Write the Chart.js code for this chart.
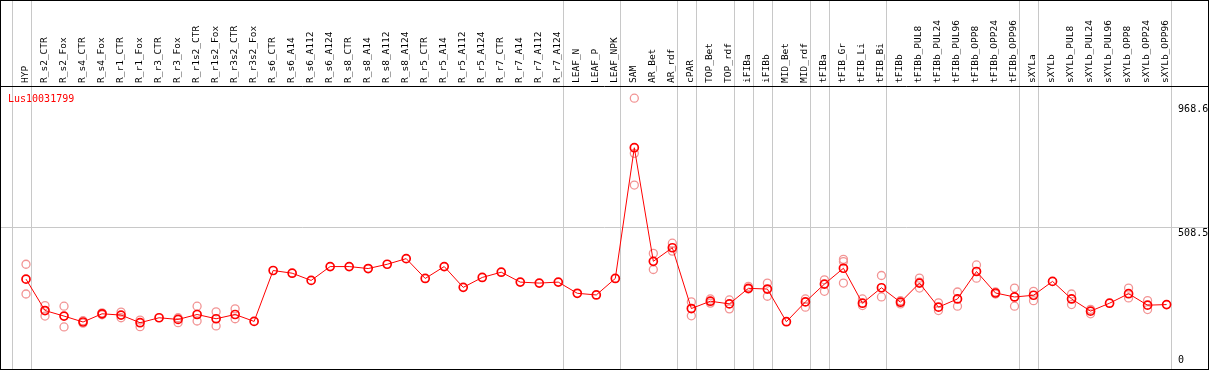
<!DOCTYPE html>
<html>
<head>
<meta charset="utf-8">
<script src="https://cdn.jsdelivr.net/npm/chart.js@4.4.1/dist/chart.umd.min.js"></script>
<style>
  html, body { margin: 0; padding: 0; background: #fff; }
  #wrap { width: 1209px; height: 370px; }
</style>
</head>
<body>
<div id="wrap"><canvas id="exprChart" width="1209" height="370"></canvas></div>
<script>
// Sample names (one column each)
const samples = [
  'HYP',
  'R_s2_CTR', 'R_s2_Fox', 'R_s4_CTR', 'R_s4_Fox', 'R_r1_CTR', 'R_r1_Fox', 'R_r3_CTR', 'R_r3_Fox',
  'R_r1s2_CTR', 'R_r1s2_Fox', 'R_r3s2_CTR', 'R_r3s2_Fox',
  'R_s6_CTR', 'R_s6_A14', 'R_s6_A112', 'R_s6_A124', 'R_s8_CTR', 'R_s8_A14', 'R_s8_A112', 'R_s8_A124',
  'R_r5_CTR', 'R_r5_A14', 'R_r5_A112', 'R_r5_A124', 'R_r7_CTR', 'R_r7_A14', 'R_r7_A112', 'R_r7_A124',
  'LEAF_N', 'LEAF_P', 'LEAF_NPK',
  'SAM', 'AR_Bet', 'AR_rdf', 'cPAR', 'TOP_Bet', 'TOP_rdf', 'iFIBa', 'iFIBb', 'MID_Bet', 'MID_rdf',
  'tFIBa', 'tFIB_Gr', 'tFIB_Li', 'tFIB_Bi',
  'tFIBb', 'tFIBb_PUL8', 'tFIBb_PUL24', 'tFIBb_PUL96', 'tFIBb_OPP8', 'tFIBb_OPP24', 'tFIBb_OPP96',
  'sXYLa', 'sXYLb', 'sXYLb_PUL8', 'sXYLb_PUL24', 'sXYLb_PUL96', 'sXYLb_OPP8', 'sXYLb_OPP24', 'sXYLb_OPP96'
];

// mean expression per sample
const meanValues = [
  314.6,
  198.6, 178.1, 156.2, 186.6, 181.8, 153.6, 171.9, 165.7,
  184.0, 168.3, 184.0, 158.4,
  346.4, 336.5, 309.8, 361.0, 361.0, 353.7, 369.5, 390.3,
  317.1, 361.0, 284.2, 320.8, 340.2, 303.6, 300.0, 303.6,
  262.3, 256.1, 317.1,
  800.0, 380.4, 430.5, 206.0, 233.0, 223.1, 280.6, 278.0, 157.3, 230.5,
  296.3, 354.8, 225.7, 282.8,
  229.4, 300.0, 211.1, 241.4, 342.8, 263.4, 248.7,
  255.0, 306.2, 241.4, 196.4, 225.7, 260.8, 218.4, 220.6
];

// individual replicates (null = not visible / same as mean)
const rep1 = [
  369.5,
  216.9, 214.7, 161.0, 190.0, 192.8, 163.5, null, 171.9,
  214.7, 193.9, 204.8, null,
  null, null, null, null, null, null, null, null,
  null, null, null, null, null, null, null, null,
  null, null, null,
  982.9, 409.7, 447.4, 230.5, 241.4, 237.8, 288.0, 300.0, null, 241.4,
  312.0, 387.7, 241.4, 328.1,
  235.0, 318.2, 226.8, 267.0, 366.9, 267.0, 281.7,
  269.6, null, 259.7, 203.0, null, 281.7, 235.2, null
];
const rep2 = [
  259.7,
  178.1, 137.9, 152.0, 183.0, 171.9, 139.0, null, 153.6,
  159.9, 141.6, 168.3, null,
  null, null, null, null, null, null, null, null,
  null, null, null, null, null, null, null, null,
  null, null, null,
  662.1, 350.1, 418.1, 179.2, 226.0, 204.8, 278.0, 251.3, null, 211.1,
  269.6, 300.0, 216.9, 248.7,
  223.0, 281.7, 198.6, 214.7, 318.2, 259.7, 214.7,
  235.2, null, 220.6, 186.6, null, 245.1, 202.3, null
];
const rep3 = [
  null,
  null, null, null, null, null, null, null, null,
  null, null, null, null,
  null, null, null, null, null, null, null, null,
  null, null, null, null, null, null, null, null,
  null, null, null,
  779.2, null, null, null, null, null, null, null, null, null,
  null, 379.3, null, null,
  null, 303.6, null, null, null, null, null,
  null, null, null, null, null, null, null, null
];

const yTicks = [0, 508.5, 968.6];
const yGridValues = [508.5];
// last sample index of each tissue group (-1 = left edge)
const groupEnds = [-1, 0, 28, 31, 34, 35, 37, 38, 39, 41, 42, 45, 52, 53, 60];
const geneId = 'Lus10031799';

const monoFont = '"DejaVu Sans Mono", monospace';

// separators, frame, y labels and gene id
const framePlugin = {
  id: 'framePlugin',
  beforeDatasetsDraw(chart) {
    const ctx = chart.ctx;
    const xs = chart.scales.x;
    const ys = chart.scales.y;
    ctx.save();
    ctx.strokeStyle = '#c8c8c8';
    ctx.lineWidth = 1;
    groupEnds.forEach(function (i) {
      const x = Math.round(xs.getPixelForValue(i) + 4.7) + 0.5;
      ctx.beginPath();
      ctx.moveTo(x, 0);
      ctx.lineTo(x, chart.height);
      ctx.stroke();
    });
    yGridValues.forEach(function (v) {
      const y = Math.round(ys.getPixelForValue(v)) + 0.5;
      ctx.beginPath();
      ctx.moveTo(0, y);
      ctx.lineTo(chart.width, y);
      ctx.stroke();
    });
    ctx.restore();
  },
  afterDraw(chart) {
    const ctx = chart.ctx;
    const ys = chart.scales.y;
    const area = chart.chartArea;
    ctx.save();
    ctx.strokeStyle = '#000';
    ctx.lineWidth = 1;
    ctx.strokeRect(0.5, 0.5, chart.width - 1, chart.height - 1);
    ctx.beginPath();
    ctx.moveTo(0, area.top - 0.5);
    ctx.lineTo(chart.width, area.top - 0.5);
    ctx.stroke();

    ctx.font = '10px ' + monoFont;
    ctx.fillStyle = '#000';
    ctx.textAlign = 'left';
    yTicks.forEach(function (v) {
      const y = ys.getPixelForValue(v);
      if (v === 0) {
        ctx.textBaseline = 'bottom';
        ctx.fillText(String(v), area.right + 2, y + 1);
      } else {
        ctx.textBaseline = 'top';
        ctx.fillText(String(v), area.right + 2, y + 2);
      }
    });

    ctx.fillStyle = '#ff0000';
    ctx.textBaseline = 'top';
    ctx.fillText(geneId, 8, area.top + 7);
    ctx.restore();
  },
};

const repStyle = {
  type: 'line',
  showLine: false,
  pointRadius: 4,
  pointBorderWidth: 1.3,
  pointBorderColor: '#f29494',
  pointBackgroundColor: 'rgba(0,0,0,0)',
};

new Chart(document.getElementById('exprChart'), {
  type: 'line',
  data: {
    labels: samples,
    datasets: [
      {
        label: 'mean',
        data: meanValues,
        borderColor: '#ff0000',
        borderWidth: 1,
        pointRadius: 4,
        pointBorderWidth: 1.7,
        pointBorderColor: '#ff0000',
        pointBackgroundColor: 'rgba(0,0,0,0)',
        tension: 0,
      },
      Object.assign({ label: 'rep1', data: rep1 }, repStyle),
      Object.assign({ label: 'rep2', data: rep2 }, repStyle),
      Object.assign({ label: 'rep3', data: rep3 }, repStyle),
    ],
  },
  options: {
    responsive: false,
    animation: false,
    layout: { padding: { left: 16.5, right: 32.9, top: 0, bottom: 3 } },
    plugins: {
      legend: { display: false },
      tooltip: { enabled: false },
    },
    scales: {
      x: {
        type: 'category',
        position: 'top',
        offset: true,
        grid: { display: false, drawTicks: false },
        border: { display: false },
        ticks: {
          autoSkip: false,
          minRotation: 90,
          maxRotation: 90,
          padding: 4,
          labelOffset: 10.5,
          color: '#000',
          font: { family: monoFont, size: 9.5 },
        },
        afterFit: function (scale) {
          scale.height = 87;
        },
      },
      y: {
        display: false,
        min: 0,
        max: 1024.3,
      },
    },
  },
  plugins: [framePlugin],
});
</script>
</body>
</html>
